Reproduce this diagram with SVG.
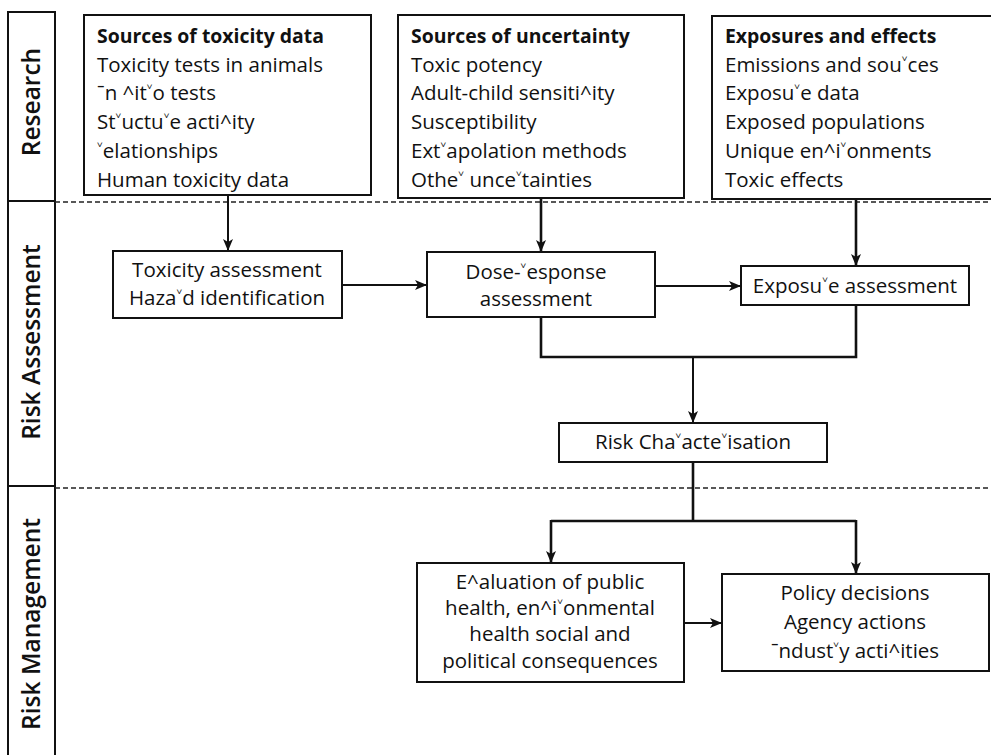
<svg xmlns="http://www.w3.org/2000/svg" width="991" height="755" viewBox="0 0 991 755">
<style>
.bx{fill:#fff;stroke:#111;stroke-width:2}
.t{font-family:"Open Sans","Noto Sans","DejaVu Sans",sans-serif;font-size:20.5px;fill:#111}
.b{font-weight:bold;font-size:19.4px}
.c{text-anchor:middle}
.lane{font-family:"Open Sans","Noto Sans","DejaVu Sans",sans-serif;font-size:24.5px;font-weight:600;fill:#111;text-anchor:middle}
.ln{fill:none;stroke:#111;stroke-width:2}
.thk{stroke-width:2.6}
.dash{fill:none;stroke:#222;stroke-width:1.5;stroke-dasharray:5 3}
</style>
<defs>
<marker id="ah" viewBox="0 0 12 10" refX="11" refY="5" markerWidth="12" markerHeight="10" markerUnits="userSpaceOnUse" orient="auto">
<path d="M0,0 L12,5 L0,10 L3,5 Z" fill="#111"/>
</marker>
</defs>
<rect width="991" height="755" fill="#fff"/>
<g id="lanes">
<path class="ln" d="M8,755 V12 H55 V755 M8,201 H55 M8,486 H55"/>
<line class="dash" x1="55" y1="202" x2="991" y2="202"/>
<line class="dash" x1="55" y1="488" x2="991" y2="488"/>
<text class="lane" transform="translate(40,102) rotate(-90)">Research</text>
<text class="lane" transform="translate(40,342) rotate(-90)">Risk Assessment</text>
<text class="lane" transform="translate(40,624) rotate(-90)">Risk Management</text>
</g>
<g id="connectors">
<line class="ln" x1="228" y1="196" x2="228" y2="250" marker-end="url(#ah)"/>
<line class="ln thk" x1="541" y1="198" x2="541" y2="251" marker-end="url(#ah)"/>
<line class="ln thk" x1="856" y1="199" x2="856" y2="265" marker-end="url(#ah)"/>
<line class="ln" x1="342" y1="285" x2="426" y2="285" marker-end="url(#ah)"/>
<line class="ln" x1="655" y1="286" x2="740" y2="286" marker-end="url(#ah)"/>
<path class="ln thk" d="M541,317 V357 H856 V305"/>
<line class="ln" x1="693" y1="357" x2="693" y2="422" marker-end="url(#ah)"/>
<path class="ln thk" d="M693,462 V521 M551,521 H856"/>
<line class="ln thk" x1="551" y1="520" x2="551" y2="562" marker-end="url(#ah)"/>
<line class="ln thk" x1="856" y1="520" x2="856" y2="573" marker-end="url(#ah)"/>
<line class="ln" x1="684" y1="623" x2="721" y2="623" marker-end="url(#ah)"/>
</g>
<g id="toxdata">
<rect class="bx" x="84" y="15" width="287" height="180"/>
<text class="t b" x="97" y="43">Sources of toxicity data</text>
<text class="t" x="97" y="72">Toxicity tests in animals</text>
<text class="t" x="97" y="100">ˉn ^it˅o tests</text>
<text class="t" x="97" y="129">St˅uctu˅e acti^ity</text>
<text class="t" x="97" y="158">˅elationships</text>
<text class="t" x="97" y="187">Human toxicity data</text>
</g>
<g id="uncertainty">
<rect class="bx" x="398" y="15" width="286" height="183"/>
<text class="t b" x="411" y="43">Sources of uncertainty</text>
<text class="t" x="411" y="72">Toxic potency</text>
<text class="t" x="411" y="100">Adult-child sensiti^ity</text>
<text class="t" x="411" y="129">Susceptibility</text>
<text class="t" x="411" y="158">Ext˅apolation methods</text>
<text class="t" x="411" y="187">Othe˅ unce˅tainties</text>
</g>
<g id="exposures">
<rect class="bx" x="712" y="16" width="290" height="183"/>
<text class="t b" x="725" y="43">Exposures and effects</text>
<text class="t" x="725" y="72">Emissions and sou˅ces</text>
<text class="t" x="725" y="100">Exposu˅e data</text>
<text class="t" x="725" y="129">Exposed populations</text>
<text class="t" x="725" y="158">Unique en^i˅onments</text>
<text class="t" x="725" y="187">Toxic effects</text>
</g>
<g id="toxassess">
<rect class="bx" x="113" y="251" width="229" height="67"/>
<text class="t c" x="227" y="277">Toxicity assessment</text>
<text class="t c" x="227" y="305">Haza˅d identification</text>
</g>
<g id="doseresponse">
<rect class="bx" x="427" y="252" width="228" height="65"/>
<text class="t c" x="536" y="279">Dose-˅esponse</text>
<text class="t c" x="536" y="306">assessment</text>
</g>
<g id="exposure">
<rect class="bx" x="741" y="266" width="228" height="39"/>
<text class="t c" x="855" y="293">Exposu˅e assessment</text>
</g>
<g id="riskchar">
<rect class="bx" x="559" y="423" width="268" height="39"/>
<text class="t c" x="693" y="449">Risk Cha˅acte˅isation</text>
</g>
<g id="evaluation">
<rect class="bx" x="417" y="563" width="267" height="119"/>
<text class="t c" x="550" y="589">E^aluation of public</text>
<text class="t c" x="550" y="615">health, en^i˅onmental</text>
<text class="t c" x="550" y="641">health social and</text>
<text class="t c" x="550" y="668">political consequences</text>
</g>
<g id="policy">
<rect class="bx" x="722" y="574" width="267" height="97"/>
<text class="t c" x="855" y="600">Policy decisions</text>
<text class="t c" x="855" y="629">Agency actions</text>
<text class="t c" x="855" y="658">ˉndust˅y acti^ities</text>
</g>
</svg>
